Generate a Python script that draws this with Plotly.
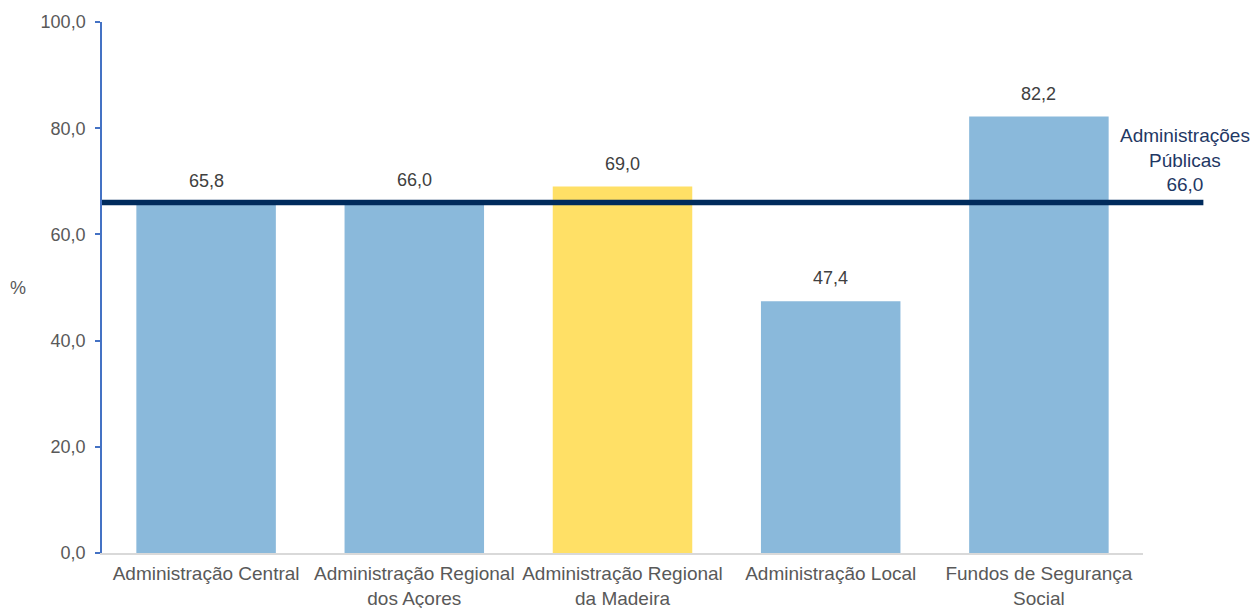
import plotly.graph_objects as go

categories = [
    "Administração Central",
    "Administração Regional<br>dos Açores",
    "Administração Regional<br>da Madeira",
    "Administração Local",
    "Fundos de Segurança<br>Social",
]
values = [65.8, 66.0, 69.0, 47.4, 82.2]
colors = ["#8AB9DB", "#8AB9DB", "#FFE066", "#8AB9DB", "#8AB9DB"]
ap_value = 66.0
ap_label = "Administrações<br>Públicas<br>66,0"
y_ticks = [0, 20, 40, 60, 80, 100]

FONT = "Liberation Sans, Arial"

fig = go.Figure()
fig.add_trace(go.Bar(
    x=categories, y=values,
    marker=dict(color=colors, line=dict(width=0)),
    hoverinfo="x+y",
))

for c, v in zip(categories, values):
    fig.add_annotation(x=c, y=v, text=f"{v:.1f}".replace(".", ","), showarrow=False,
                       yanchor="bottom", yshift=11,
                       font=dict(family=FONT, size=18, color="#404040"))

fig.add_shape(type="line", xref="paper", yref="y", x0=0, x1=1.058, y0=ap_value, y1=ap_value,
              line=dict(color="#002B5C", width=5.5), layer="above")
fig.add_annotation(xref="paper", yref="y", x=1.040, y=ap_value, yshift=6, text=ap_label,
                   showarrow=False, xanchor="center", yanchor="bottom", align="center",
                   font=dict(family=FONT, size=19, color="#1F3864"))

fig.update_layout(
    width=1255, height=608,
    margin=dict(l=102, r=112, t=22, b=55),
    plot_bgcolor="white", paper_bgcolor="white",
    separators=",.",
    bargap=0.33,
    showlegend=False,
    font=dict(family=FONT, size=18, color="#595959"),
    yaxis=dict(range=[0, 100], tickvals=y_ticks, tickformat=".1f", showgrid=False,
               showline=True, linecolor="#4472C4", linewidth=1.5,
               ticks="outside", ticklen=5, tickcolor="#4472C4", tickwidth=1.5, zeroline=False,
               ticklabelstandoff=6, automargin=False,
               tickfont=dict(family=FONT, size=18, color="#595959")),
    xaxis=dict(showline=True, linecolor="#D9D9D9", linewidth=2, ticks="",
               ticklabelstandoff=2, automargin=False,
               tickfont=dict(family=FONT, size=19, color="#595959")),
)
fig.add_annotation(xref="paper", yref="paper", x=-0.09, y=0.5, text="%", showarrow=False,
                   font=dict(family=FONT, size=18, color="#595959"), xanchor="left")

fig.write_html("out.html")
